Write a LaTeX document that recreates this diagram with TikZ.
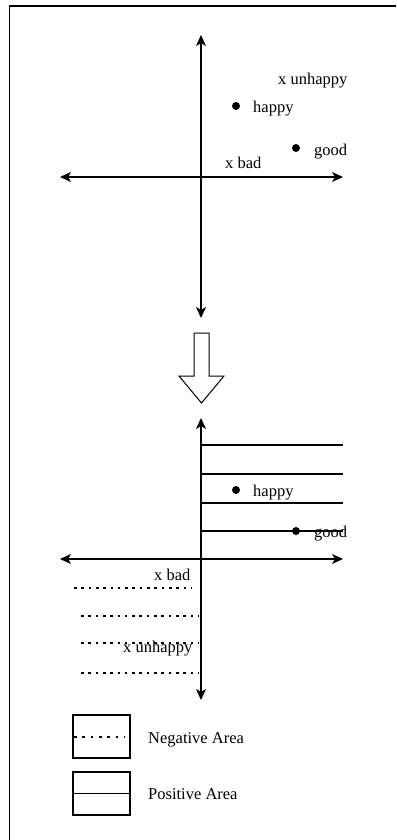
\documentclass[tikz,border=0pt]{standalone}
\usepackage{fontspec}
\setmainfont{Liberation Serif}
\usetikzlibrary{arrows.meta}
\begin{document}
\begin{tikzpicture}[x=1pt,y=-1pt,
  axis/.style={line width=1.2pt,{Stealth[length=11pt,width=10pt,inset=3pt]}-{Stealth[length=11pt,width=10pt,inset=3pt]}},
  lbl/.style={inner sep=0pt,anchor=base west,font=\fontsize{16.5}{18}\selectfont},
  dotpt/.style={circle,fill=black,inner sep=0pt,minimum size=8pt},
  solidline/.style={line width=1.2pt},
  dotline/.style={line width=2.6pt,dash pattern=on 2.6pt off 4.7pt},
  frame/.style={line width=1.6pt}]
\useasboundingbox (0,0) rectangle (396,840);
% frame
\draw[frame] (9.5,840) -- (9.5,6) -- (396,6);
% ---------- top chart ----------
\coordinate (t1) at (201,35);
\coordinate (t2) at (201,318);
\coordinate (l1) at (60,177);
\coordinate (r1) at (343,177);
\draw[axis] (t2) -- (t1);
\draw[axis] (l1) -- (r1);
\node[lbl] (unh1) at (278,85) {x unhappy};
\node[dotpt] (dh1) at (236,106) {};
\node[lbl] (hap1) at (253,113) {happy};
\node[dotpt] (dg1) at (296,148) {};
\node[lbl] (good1) at (314,155) {good};
\node[lbl] (bad1) at (225,168) {x bad};
% ---------- block arrow ----------
\draw[line width=1pt,fill=white] (194,333) -- (209,333) -- (209,376) -- (224,376) -- (201.5,403) -- (179,376) -- (194,376) -- cycle;
% ---------- bottom chart ----------
\coordinate (t3) at (201,418);
\coordinate (t4) at (201,700);
\coordinate (l2) at (60,559);
\coordinate (r2) at (343,559);
% positive area lines
\foreach \yy/\nm in {445/pa,474/pb,503/pc,531/pd}{
  \coordinate (\nm-s) at (201,\yy);
  \coordinate (\nm-e) at (343,\yy);
  \draw[solidline] (\nm-s) -- (\nm-e);
}
% negative area dotted lines
\coordinate (na-s) at (74,588);  \coordinate (na-e) at (192,588);
\coordinate (nb-s) at (81,616);  \coordinate (nb-e) at (199,616);
\coordinate (nc-s) at (81,643);  \coordinate (nc-e) at (199,643);
\coordinate (nd-s) at (81,673);  \coordinate (nd-e) at (199,673);
\foreach \nm in {na,nb,nc,nd}{\draw[dotline] (\nm-s) -- (\nm-e);}
\draw[axis] (t4) -- (t3);
\draw[axis] (l2) -- (r2);
\node[dotpt] (dh2) at (236,490) {};
\node[lbl] (hap2) at (253,496) {happy};
\node[dotpt] (dg2) at (296,531) {};
\node[lbl] (good2) at (314,537) {good};
\node[lbl] (bad2) at (154,580) {x bad};
\node[lbl] (unh2) at (123,652) {x unhappy};
% ---------- legend ----------
\node[draw,line width=1.2pt,minimum width=57pt,minimum height=43pt,inner sep=0pt] (negbox) at (101.5,736.5) {};
\coordinate (nl-s) at (74,737);
\coordinate (nl-e) at (124,737);
\draw[dotline,dash pattern=on 2.6pt off 5.7pt] (nl-s) -- (nl-e);
\node[lbl] (neg) at (148,743) {Negative Area};
\node[draw,line width=1.2pt,minimum width=57pt,minimum height=43pt,inner sep=0pt] (posbox) at (101.5,793.5) {};
\draw[solidline] (posbox.west) -- (posbox.east);
\node[lbl] (pos) at (148,799) {Positive Area};
\end{tikzpicture}
\end{document}
